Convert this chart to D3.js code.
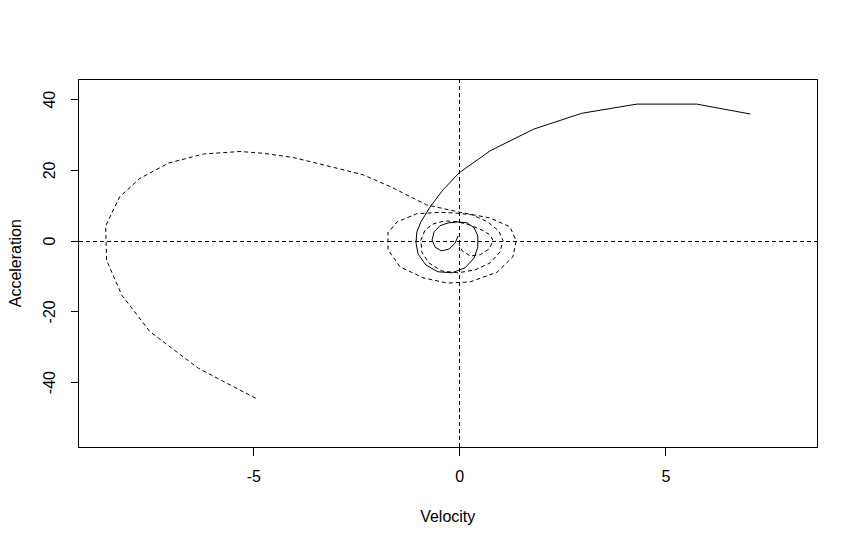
<!DOCTYPE html>
<html>
<head>
<meta charset="utf-8">
<script src="https://cdn.jsdelivr.net/npm/d3@7"></script>
<style>
  body { margin: 0; background: #fff; }
  svg { display: block; }
  text { font-family: "Liberation Sans", Arial, sans-serif; fill: #000; }
</style>
</head>
<body>
<svg id="chart" width="858" height="545"></svg>
<script>
// ---- data (velocity, acceleration) ----
const solidVelocity = [-0.03, -0.10, -0.25, -0.44, -0.59, -0.66, -0.61, -0.47, -0.27, -0.03, 0.19, 0.36, 0.45, 0.45, 0.36, 0.14, -0.18, -0.52, -0.81, -1.00, -1.05, -1.03, -0.93, -0.71, -0.40, 0.0, 0.75, 1.80, 2.97, 4.31, 5.76, 7.06];
const solidAcceleration = [1.3, -0.7, -2.4, -2.9, -1.8, 0.2, 2.5, 4.2, 5.0, 5.3, 5.0, 3.6, 1.3, -1.8, -4.9, -7.7, -9.1, -8.8, -6.9, -3.8, -0.7, 2.5, 5.3, 9.5, 14.3, 19.2, 25.4, 31.5, 36.0, 38.6, 38.6, 35.8];

const dashedVelocity = [-4.94, -6.33, -7.51, -8.19, -8.56, -8.58, -8.24, -7.75, -7.06, -6.21, -5.32, -4.76, -4.03, -3.22, -2.33, -1.68, -0.79, 0.02, 0.75, 1.23, 1.38, 1.30, 0.92, 0.26, -0.30, -0.88, -1.44, -1.73, -1.73, -1.51, -1.03, -0.47, -0.10, 0.31, 0.69, 0.96, 1.06, 0.99, 0.75, 0.38, -0.03, -0.42, -0.74, -0.91, -0.93, -0.83, -0.64, -0.35, -0.03, 0.26, 0.55, 0.75, 0.82, 0.73, 0.51, 0.26, 0.07, -0.01];
const dashedAcceleration = [-44.6, -36.1, -25.7, -15.4, -5.5, 4.2, 12.4, 17.6, 21.9, 24.5, 25.2, 24.7, 23.5, 21.2, 18.6, 15.3, 10.1, 8.0, 6.4, 3.9, -0.1, -4.6, -8.9, -11.7, -12.0, -10.5, -7.4, -2.6, 2.2, 5.3, 7.6, 8.0, 7.8, 7.3, 5.3, 2.7, 0.0, -3.2, -6.3, -8.3, -9.1, -8.6, -6.3, -3.2, 0.2, 3.0, 4.7, 5.6, 5.3, 4.4, 3.0, 1.6, 0.0, -2.3, -4.0, -4.3, -2.9, -0.9];

const xTicks = [-5, 0, 5];
const yTicks = [-40, -20, 0, 20, 40];
const xLabel = "Velocity";
const yLabel = "Acceleration";

// ---- layout ----
const svg = d3.select("#chart");
const plot = { left: 78.5, right: 817, top: 79, bottom: 447.5 };
const fontSize = 16;
const fmt = d => String(d);

const x = d3.scaleLinear().domain([-9.24, 8.68]).range([plot.left, plot.right]);
const y = d3.scaleLinear().domain([-58.5, 45.7]).range([plot.bottom, plot.top]);

// reference lines
svg.append("line")
  .attr("x1", plot.left).attr("x2", plot.right)
  .attr("y1", Math.round(y(0)) + 0.5).attr("y2", Math.round(y(0)) + 0.5)
  .attr("stroke", "#000").attr("stroke-dasharray", "4,3").attr("shape-rendering", "crispEdges");
svg.append("line")
  .attr("y1", plot.top).attr("y2", plot.bottom)
  .attr("x1", Math.round(x(0)) + 0.5).attr("x2", Math.round(x(0)) + 0.5)
  .attr("stroke", "#000").attr("stroke-dasharray", "4,3").attr("shape-rendering", "crispEdges");

// curves
const solidPts = solidVelocity.map((v, i) => [v, solidAcceleration[i]]);
const dashedPts = dashedVelocity.map((v, i) => [v, dashedAcceleration[i]]);
const line = d3.line().x(d => x(d[0])).y(d => y(d[1]));

svg.append("path").attr("d", line(solidPts))
  .attr("fill", "none").attr("stroke", "#000").attr("stroke-width", 1);
svg.append("path").attr("d", line(dashedPts))
  .attr("fill", "none").attr("stroke", "#000").attr("stroke-width", 1)
  .attr("stroke-dasharray", "4,3");

// box
svg.append("rect")
  .attr("x", plot.left).attr("y", plot.top)
  .attr("width", plot.right - plot.left).attr("height", plot.bottom - plot.top)
  .attr("fill", "none").attr("stroke", "#000").attr("shape-rendering", "crispEdges");

// axes
const xAxis = d3.axisBottom(x).tickValues(xTicks).tickSize(8).tickFormat(fmt);
const gx = svg.append("g").attr("transform", `translate(0,${plot.bottom})`).call(xAxis);
gx.select(".domain").remove();
gx.selectAll("line").attr("shape-rendering", "crispEdges");
gx.selectAll("text").remove();
gx.selectAll(".tick").append("text")
  .attr("y", 34.5).attr("text-anchor", "middle")
  .attr("font-size", fontSize).attr("fill", "#000")
  .attr("font-family", "Liberation Sans, Arial, sans-serif")
  .text(fmt);

const yAxis = d3.axisLeft(y).tickValues(yTicks).tickSize(8).tickFormat(fmt);
const gy = svg.append("g").attr("transform", `translate(${plot.left},0)`).call(yAxis);
gy.select(".domain").remove();
gy.selectAll("line").attr("shape-rendering", "crispEdges");
gy.selectAll("text").remove();
gy.selectAll(".tick").append("text")
  .attr("transform", "translate(-23.5,0) rotate(-90)")
  .attr("text-anchor", "middle")
  .attr("font-size", fontSize).attr("fill", "#000")
  .attr("font-family", "Liberation Sans, Arial, sans-serif")
  .text(fmt);

// axis titles
svg.append("text")
  .attr("x", (plot.left + plot.right) / 2).attr("y", 522)
  .attr("text-anchor", "middle").attr("font-size", fontSize).text(xLabel);
svg.append("text")
  .attr("transform", `translate(20.5,${(plot.top + plot.bottom) / 2}) rotate(-90)`)
  .attr("text-anchor", "middle").attr("font-size", fontSize).text(yLabel);
</script>
</body>
</html>
